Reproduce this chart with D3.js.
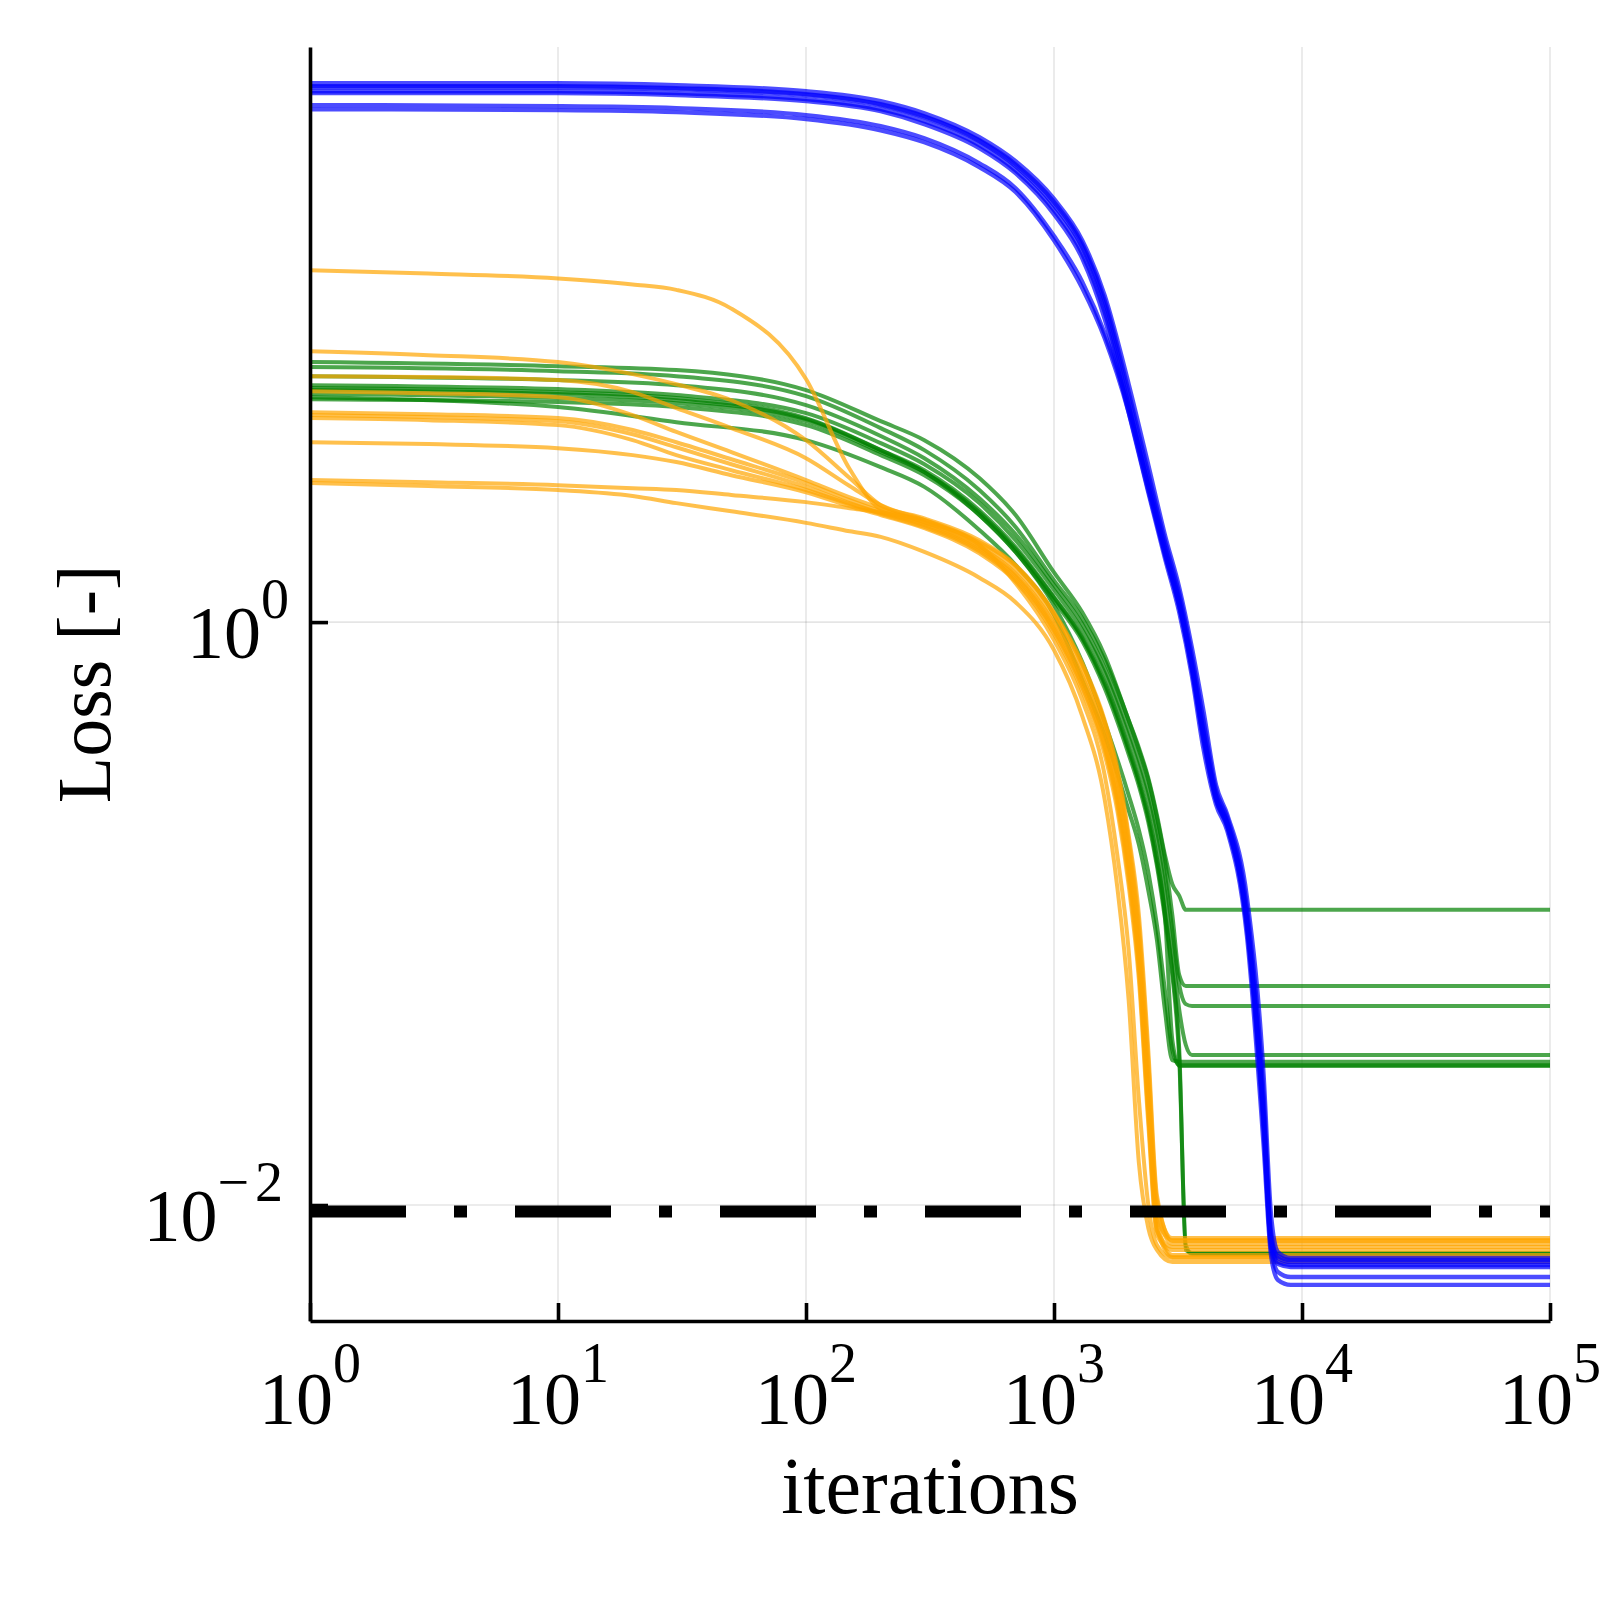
<!DOCTYPE html>
<html>
<head>
<meta charset="utf-8">
<script src="https://cdn.jsdelivr.net/npm/d3@7"></script>
<style>
  body { margin: 0; background: #fff; }
  text { font-family: "Liberation Serif", "DejaVu Serif", serif; fill: #000; }
</style>
</head>
<body>
<svg id="chart"></svg>
<script>
// ---- data ----
var xDomain = [1, 100000];
var yDomain = [0.004, 94];

var xTicks = [1, 10, 100, 1000, 10000, 100000];
var xTickExp = ["0", "1", "2", "3", "4", "5"];
var yTicks = [1, 0.01];
var yTickExp = ["0", "\u22122"];

var refLoss = 0.0095;

var blueIters = [1, 10, 30, 100, 200, 300, 500, 700, 1000, 1300, 1600, 2000, 2400, 2800, 3200, 3600, 4000, 4500, 5000, 6000, 7000, 7500, 8000, 9000, 100000];
var blueRuns = [
  [70.6, 70.6, 69.5, 66.3, 61.3, 55.7, 46.1, 38.1, 28.3, 20.4, 13.2, 6.55, 3.46, 1.99, 1.31, 0.814, 0.499, 0.276, 0.218, 0.113, 0.0279, 0.00924, 0.00690, 0.00658, 0.00658],
  [69.0, 69.0, 67.9, 64.8, 59.8, 54.4, 45.0, 37.2, 27.6, 19.8, 12.7, 6.15, 3.24, 1.90, 1.25, 0.764, 0.461, 0.265, 0.213, 0.104, 0.0238, 0.00808, 0.00658, 0.00637, 0.00637],
  [68.4, 68.4, 67.4, 64.3, 59.4, 54.0, 44.7, 36.7, 26.9, 19.3, 12.2, 5.82, 3.07, 1.81, 1.19, 0.723, 0.426, 0.255, 0.206, 0.0965, 0.0208, 0.00759, 0.00637, 0.00622, 0.00622],
  [66.3, 66.3, 65.3, 62.3, 57.5, 52.3, 43.3, 35.5, 25.9, 18.4, 11.6, 5.55, 2.93, 1.72, 1.13, 0.684, 0.394, 0.245, 0.198, 0.0892, 0.0181, 0.00712, 0.00589, 0.00566, 0.00566],
  [65.3, 65.3, 64.3, 61.3, 56.6, 51.1, 42.3, 34.7, 25.1, 17.7, 11.0, 5.25, 2.79, 1.66, 1.08, 0.653, 0.370, 0.237, 0.192, 0.0837, 0.0161, 0.00674, 0.00553, 0.00532, 0.00532],
  [59.4, 58.9, 58.0, 54.9, 50.3, 45.7, 37.5, 30.8, 21.1, 14.7, 9.80, 5.42, 2.95, 1.77, 1.16, 0.707, 0.416, 0.251, 0.203, 0.0935, 0.0199, 0.00759, 0.00668, 0.00648, 0.00648],
  [57.5, 57.1, 56.2, 53.2, 48.7, 44.3, 36.4, 29.9, 20.4, 14.0, 9.43, 5.25, 2.84, 1.71, 1.13, 0.690, 0.403, 0.247, 0.200, 0.0913, 0.0193, 0.00729, 0.00627, 0.00613, 0.00613]
];

var greenIters = [1, 10, 30, 100, 200, 300, 500, 700, 1000, 1300, 1600, 2000, 2200, 2400, 2600, 2800, 3000, 3200, 3400, 3600, 4000, 100000];
var greenRuns = [
  [7.80, 7.55, 7.32, 6.25, 4.89, 4.21, 3.12, 2.33, 1.48, 1.08, 0.770, 0.461, 0.370, 0.292, 0.218, 0.159, 0.126, 0.115, 0.103, 0.103, 0.103, 0.103],
  [7.50, 7.26, 6.98, 5.96, 4.63, 3.89, 2.84, 2.12, 1.39, 1.03, 0.741, 0.461, 0.364, 0.287, 0.213, 0.153, 0.0988, 0.0615, 0.0564, 0.0564, 0.0564, 0.0564],
  [6.98, 6.77, 6.50, 5.55, 4.35, 3.65, 2.66, 2.00, 1.34, 0.984, 0.695, 0.426, 0.336, 0.261, 0.193, 0.136, 0.0878, 0.0568, 0.0489, 0.0482, 0.0482, 0.0482],
  [6.50, 6.30, 6.01, 5.21, 4.11, 3.48, 2.56, 1.91, 1.29, 0.939, 0.668, 0.403, 0.316, 0.245, 0.179, 0.120, 0.0749, 0.0467, 0.0354, 0.0327, 0.0327, 0.0327],
  [5.91, 5.47, 4.85, 4.21, 3.40, 2.91, 2.07, 1.57, 1.06, 0.632, 0.410, 0.226, 0.172, 0.120, 0.0811, 0.0467, 0.0314, 0.0310, 0.0310, 0.0310, 0.0310, 0.0310],
  [6.35, 6.15, 5.87, 5.01, 3.89, 3.27, 2.33, 1.74, 1.14, 0.729, 0.454, 0.255, 0.193, 0.139, 0.0913, 0.0546, 0.0340, 0.0302, 0.0302, 0.0302, 0.0302, 0.0302],
  [6.25, 6.06, 5.77, 4.97, 3.89, 3.32, 2.42, 1.81, 1.22, 0.888, 0.623, 0.370, 0.287, 0.218, 0.155, 0.0988, 0.0368, 0.0300, 0.0300, 0.0300, 0.0300, 0.0300],
  [6.06, 5.87, 5.64, 4.89, 3.83, 3.27, 2.38, 1.78, 1.21, 0.881, 0.613, 0.364, 0.283, 0.213, 0.150, 0.101, 0.0640, 0.0340, 0.00701, 0.00685, 0.00685, 0.00685],
  [5.82, 5.69, 5.47, 4.74, 3.74, 3.19, 2.33, 1.74, 1.18, 0.861, 0.594, 0.352, 0.274, 0.206, 0.146, 0.0965, 0.0615, 0.0314, 0.00729, 0.00679, 0.00679, 0.00679]
];

var orangeIters = [1, 3, 10, 20, 30, 50, 100, 150, 200, 300, 500, 700, 1000, 1300, 1600, 1800, 2000, 2200, 2400, 2600, 3000, 100000];
var orangeRuns = [
  [16.1, 15.7, 15.1, 14.4, 13.8, 11.9, 6.82, 3.35, 2.44, 2.24, 1.88, 1.56, 1.07, 0.712, 0.454, 0.306, 0.179, 0.0913, 0.0314, 0.0104, 0.00770, 0.00770],
  [8.50, 8.24, 7.80, 7.09, 6.55, 5.77, 4.21, 3.12, 2.52, 2.27, 1.91, 1.57, 1.08, 0.723, 0.461, 0.316, 0.186, 0.0988, 0.0340, 0.0108, 0.00752, 0.00752],
  [6.98, 6.93, 6.77, 6.15, 5.42, 4.63, 3.65, 2.93, 2.52, 2.24, 1.85, 1.52, 1.03, 0.684, 0.433, 0.292, 0.168, 0.0844, 0.0279, 0.00977, 0.00735, 0.00735],
  [6.20, 6.10, 5.91, 5.13, 4.49, 3.83, 3.07, 2.68, 2.46, 2.20, 1.82, 1.47, 0.992, 0.653, 0.410, 0.272, 0.155, 0.0749, 0.0244, 0.00902, 0.00759, 0.00759],
  [5.25, 5.17, 5.01, 4.56, 4.14, 3.62, 3.00, 2.62, 2.40, 2.17, 1.79, 1.45, 0.969, 0.632, 0.394, 0.259, 0.147, 0.0704, 0.0229, 0.00874, 0.00674, 0.00674],
  [5.13, 5.05, 4.89, 4.41, 3.98, 3.48, 2.91, 2.56, 2.37, 2.15, 1.77, 1.43, 0.946, 0.613, 0.378, 0.247, 0.139, 0.0661, 0.0212, 0.00834, 0.00663, 0.00663],
  [5.01, 4.93, 4.74, 4.21, 3.74, 3.32, 2.84, 2.54, 2.35, 2.12, 1.75, 1.40, 0.931, 0.598, 0.367, 0.237, 0.132, 0.0630, 0.0202, 0.00814, 0.00718, 0.00718],
  [4.14, 4.08, 3.95, 3.74, 3.54, 3.19, 2.79, 2.50, 2.33, 2.10, 1.72, 1.38, 0.910, 0.580, 0.352, 0.226, 0.125, 0.0591, 0.0190, 0.00789, 0.00701, 0.00701],
  [3.07, 3.02, 2.95, 2.88, 2.84, 2.73, 2.58, 2.46, 2.38, 2.20, 1.84, 1.36, 0.868, 0.540, 0.299, 0.159, 0.0749, 0.0229, 0.0100, 0.00729, 0.00658, 0.00658],
  [3.00, 2.93, 2.84, 2.71, 2.56, 2.40, 2.19, 2.05, 1.96, 1.74, 1.42, 1.17, 0.802, 0.476, 0.247, 0.123, 0.0505, 0.0139, 0.00834, 0.00701, 0.00637, 0.00637]
];

// ---- layout ----
var dimensions = {
  width: 1599,
  height: 1600,
  margin: { top: 47, right: 49, bottom: 279, left: 310 }
};
var plotLeft = dimensions.margin.left,
    plotRight = dimensions.width - dimensions.margin.right,
    plotTop = dimensions.margin.top,
    plotBottom = dimensions.height - dimensions.margin.bottom;

var svg = d3.select("#chart")
  .attr("width", dimensions.width)
  .attr("height", dimensions.height);

svg.append("rect")
  .attr("width", dimensions.width)
  .attr("height", dimensions.height)
  .attr("fill", "#fff");

var xScale = d3.scaleLog().domain(xDomain).range([plotLeft, plotRight]);
var yScale = d3.scaleLog().domain(yDomain).range([plotBottom, plotTop]);

// grid lines
var grid = svg.append("g")
  .attr("stroke", "#000")
  .attr("stroke-opacity", 0.1)
  .attr("stroke-width", 1.6);

grid.selectAll(".gx")
  .data(xTicks)
  .join("line")
  .attr("x1", d => xScale(d))
  .attr("x2", d => xScale(d))
  .attr("y1", plotTop)
  .attr("y2", plotBottom);

grid.selectAll(".gy")
  .data(yTicks)
  .join("line")
  .attr("x1", plotLeft)
  .attr("x2", plotRight)
  .attr("y1", d => yScale(d))
  .attr("y2", d => yScale(d));

// curves
svg.append("clipPath").attr("id", "plot-clip")
  .append("rect")
  .attr("x", plotLeft).attr("y", plotTop)
  .attr("width", plotRight - plotLeft).attr("height", plotBottom - plotTop);

function drawRuns(iters, runs, color, width) {
  var line = d3.line()
    .x((d, i) => xScale(iters[i]))
    .y(d => yScale(d))
    .curve(d3.curveMonotoneX);

  svg.append("g")
    .attr("clip-path", "url(#plot-clip)")
    .selectAll("path")
    .data(runs)
    .join("path")
    .attr("d", line)
    .attr("fill", "none")
    .attr("stroke", color)
    .attr("stroke-opacity", 0.7)
    .attr("stroke-width", width)
    .attr("stroke-linejoin", "round");
}

drawRuns(greenIters, greenRuns, "green", 4);
drawRuns(orangeIters, orangeRuns, "orange", 4);
drawRuns(blueIters, blueRuns, "blue", 4.4);

// reference line (dash-dot)
svg.append("line")
  .attr("x1", xScale(xDomain[0]))
  .attr("x2", xScale(xDomain[1]))
  .attr("y1", yScale(refLoss))
  .attr("y2", yScale(refLoss))
  .attr("stroke", "#000")
  .attr("stroke-width", 12)
  .attr("stroke-dasharray", "96 48 13 48");

// axes
var xAxis = svg.append("g")
  .attr("transform", `translate(0,${plotBottom})`)
  .call(d3.axisBottom(xScale).tickValues(xTicks).tickSizeInner(-18).tickSizeOuter(0).tickFormat(""));
xAxis.select(".domain").attr("stroke-width", 3.6);
xAxis.selectAll(".tick line").attr("stroke-width", 3.6);
xAxis.selectAll(".tick text").remove();

var yAxis = svg.append("g")
  .attr("transform", `translate(${plotLeft},0)`)
  .call(d3.axisLeft(yScale).tickValues(yTicks).tickSizeInner(-18).tickSizeOuter(0).tickFormat(""));
yAxis.select(".domain").attr("stroke-width", 3.6);
yAxis.selectAll(".tick line").attr("stroke-width", 3.6);
yAxis.selectAll(".tick text").remove();

// tick labels 10^k
xTicks.forEach(function (t, i) {
  var txt = svg.append("text")
    .attr("x", xScale(t))
    .attr("y", plotBottom + 103)
    .attr("text-anchor", "middle")
    .style("font-size", "74px");
  txt.append("tspan").text("10");
  txt.append("tspan").attr("dy", -42).style("font-size", "56px").text(xTickExp[i]);
});

yTicks.forEach(function (t, i) {
  var txt = svg.append("text")
    .attr("x", plotLeft - 21)
    .attr("y", yScale(t) + 36)
    .attr("text-anchor", "end")
    .style("font-size", "74px");
  txt.append("tspan").text("10");
  txt.append("tspan").attr("dy", -40).style("font-size", "56px")
    .style("letter-spacing", yTickExp[i].length > 1 ? "6px" : "0px")
    .text(yTickExp[i]);
});

// axis titles
svg.append("text")
  .attr("x", (plotLeft + plotRight) / 2)
  .attr("y", 1513)
  .attr("text-anchor", "middle")
  .style("font-size", "80px")
  .text("iterations");

svg.append("text")
  .attr("transform", `translate(110,${(plotTop + plotBottom) / 2}) rotate(-90)`)
  .attr("text-anchor", "middle")
  .style("font-size", "76px")
  .text("Loss [-]");
</script>
</body>
</html>
